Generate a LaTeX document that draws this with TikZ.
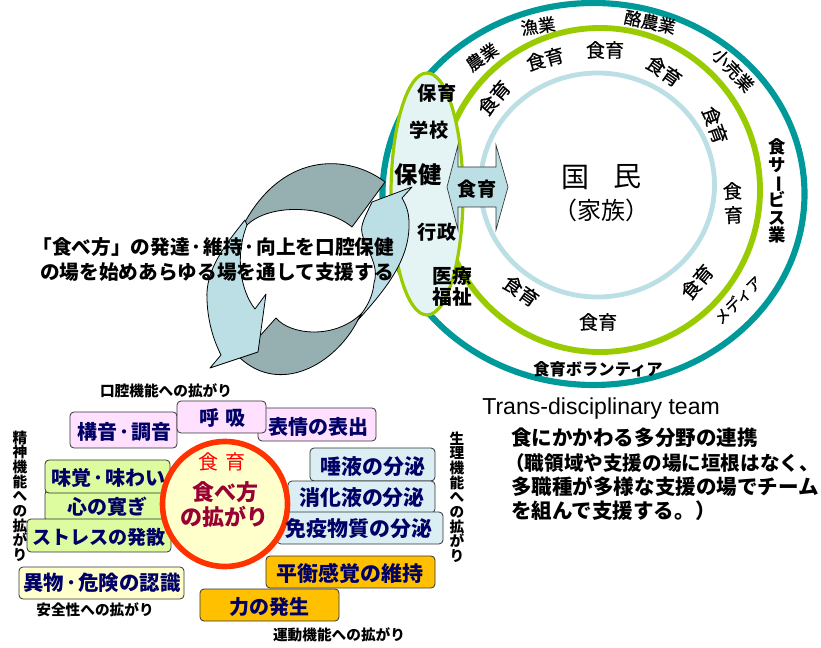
\documentclass[tikz,border=0pt]{standalone}
\usepackage{fontspec}
\setmainfont{Noto Sans CJK JP}
\newfontfamily\latn{Liberation Sans}
\newfontfamily\jm[FakeBold=0.6]{Noto Sans CJK JP}
\definecolor{teal1}{HTML}{009999}
\definecolor{green1}{HTML}{99CC00}
\definecolor{ice}{HTML}{BBDFE4}
\definecolor{pale}{HTML}{E4F4F4}
\definecolor{slate}{HTML}{96B0B2}
\definecolor{navy1}{HTML}{000066}
\definecolor{maroon1}{HTML}{990033}
\definecolor{pink1}{HTML}{FFE1FF}
\definecolor{lime1}{HTML}{DDFB9F}
\definecolor{aqua1}{HTML}{DAEEF3}
\definecolor{cream1}{HTML}{FFFFCC}
\definecolor{amber1}{HTML}{FFC000}
\newcommand{\fs}[1]{\fontsize{#1}{#1}\selectfont\lineskiplimit=-100pt\relax}
\newcommand{\dt}{\kern0.1em･\kern0.1em}
\tikzset{
  ringtext/.style={font=\jm\fs{14.3}, inner sep=0pt, black},
  outertext/.style={font=\jm\fs{13}, inner sep=0pt, black},
  placetext/.style={font=\fs{14.4}\bfseries, inner sep=0pt, black},
  boxpath/.style={draw=black!80, line width=0.6pt, rounded corners=3pt},
  boxtext/.style={font=\fs{15}\bfseries, inner sep=0pt, navy1},
  axistext/.style={font=\fs{11}\bfseries, inner sep=0pt, black},
  stacktext/.style={align=center, inner sep=0pt, black},
  bodytext/.style={font=\fs{15.4}\bfseries, anchor=west, inner sep=0pt, black},
  leadtext/.style={font=\fs{14.75}\bfseries, anchor=west, inner sep=0pt, black},
  arrowslate/.style={fill=slate, draw=black, line width=0.6pt, line join=round},
  arrowice/.style={fill=ice, draw=black, line width=0.6pt, line join=round},
}
\begin{document}
\begin{tikzpicture}[x=0.75pt,y=-0.75pt]
\useasboundingbox (0,0) rectangle (821,648);
% rings
\draw[teal1, line width=4.6pt] (593.5,194) ellipse [x radius=211, y radius=191];
\draw[green1, line width=4.4pt] (600,190) ellipse [x radius=160, y radius=162];
\draw[ice, line width=3.6pt] (597.5,185) ellipse [x radius=117, y radius=112];
% place ellipse
\draw[green1, fill=pale, line width=2.4pt] (427,194) ellipse [x radius=36, y radius=121];
% double arrow
\draw[fill=ice, draw=black!80, line width=0.5pt] (447,187) -- (458,145) -- (458,167) -- (496,167) -- (496,145) -- (508,187) -- (496,230) -- (496,207) -- (458,207) -- (458,230) -- cycle;
% cycle arrows
\draw[arrowslate] (385,182) .. controls (350,155) and (285,150) .. (245,222) -- (247,225) .. controls (270,203) and (325,205) .. (352,227) -- cycle;
\draw[arrowslate] (276,318) .. controls (290,335) and (335,340) .. (362,313) -- (358,320) .. controls (335,365) and (280,395) .. (240,358) -- cycle;
\draw[arrowice] (412,187) -- (372,202) .. controls (366,215) and (360,225) .. (362,233) .. controls (365,248) and (380,265) .. (374,283) .. controls (373,295) and (368,305) .. (362,313) -- (358,320) .. controls (385,290) and (410,260) .. (409,223) .. controls (409,212) and (406,205) .. (402,198) -- cycle;
\draw[arrowice] (210,368) -- (258,352) -- (266,294) -- (255,309) .. controls (240,290) and (235,255) .. (247,225) -- (245,220) .. controls (225,245) and (205,270) .. (207,300) .. controls (208,325) and (215,343) .. (221,355) -- cycle;
% outer ring labels
\node[outertext, rotate=35] (nogyo) at (482,57) {農業};
\node[outertext, rotate=8] (gyogyo) at (538,26) {漁業};
\node[outertext, rotate=-12] (rakuno) at (650,22) {酪農業};
\node[outertext, rotate=-47] (kouri) at (733,70) {小売業};
\node[stacktext, font=\fs{13}\bfseries] (service) at (777,191) {食\\[0.2pt]サ\\[0.2pt]\rotatebox[origin=c]{-90}{ー}\\[0.2pt]ビ\\[0.2pt]ス\\[0.2pt]業};
\node[outertext, rotate=45, font=\jm\fs{11.5}] (media) at (738,300) {メディア};
\node[outertext, font=\fs{12.2}\bfseries] (volunteer) at (598,369) {食育ボランティア};
% inner ring labels
\node[ringtext, rotate=50] (r1) at (494,98) {食育};
\node[ringtext, rotate=15] (r2) at (545,59) {食育};
\node[ringtext] (r3) at (605,50) {食育};
\node[ringtext, rotate=-35] (r4) at (664,71) {食育};
\node[ringtext, rotate=-70] (r5) at (715,125) {食育};
\node[stacktext, font=\jm\fs{14.3}, rotate=3] (r6) at (733,203) {食\\[3.7pt]育};
\node[ringtext, rotate=50] (r7) at (697,282) {食育};
\node[ringtext] (r8) at (598,322) {食育};
\node[ringtext, rotate=-35] (r9) at (521,291) {食育};
% centre
\node[inner sep=0pt, font=\fs{21}] (koku) at (575,177) {国};
\node[inner sep=0pt, font=\fs{21}] (min) at (627,177) {民};
\node[inner sep=0pt, font=\fs{18}] (kazoku) at (601,210) {\kern-0.25em（家族）\kern-0.25em};
% ellipse labels
\node[placetext] (hoiku) at (437,93) {保育};
\node[placetext] (gakko) at (429,130) {学校};
\node[placetext, font=\fs{17.5}\bfseries] (hoken) at (418,175) {保健};
\node[placetext] (gyosei) at (437,232) {行政};
\node[placetext, font=\fs{14.8}\bfseries] (iryo) at (452,276) {医療};
\node[placetext, font=\fs{14.8}\bfseries] (fukushi) at (452,297) {福祉};
\node[placetext] (shokuiku) at (477,189) {食育};
% lead text
\node[leadtext] (lead1) at (40,247) {\kern-0.4em「食べ方」の発達\dt 維持\dt 向上を口腔保健};
\node[leadtext] (lead2) at (40,272) {の場を始めあらゆる場を通して支援する};
% right text
\node[anchor=west, inner sep=0pt, font=\latn\fs{17.3}] (trans) at (482,409) {Trans-disciplinary team};
\node[bodytext] (b1) at (511,438) {食にかかわる多分野の連携};
\node[bodytext, font=\fs{14.7}\bfseries] (b2) at (511,463) {\kern-0.3em（職領域や支援の場に垣根はなく、};
\node[bodytext] (b3) at (511,487) {多職種が多様な支援の場でチーム};
\node[bodytext] (b4) at (511,511) {を組んで支援する。）};
% boxes
\path[boxpath, fill=pink1] (70,412) rectangle (177,448);
\path[boxpath, fill=pink1] (258,408) rectangle (376,441);
\path[boxpath, fill=pink1] (177,401) rectangle (266,433);
\path[boxpath, fill=lime1] (45,490) rectangle (172,522);
\path[boxpath, fill=lime1] (45,460) rectangle (170,493);
\path[boxpath, fill=lime1] (27,519) rectangle (171,552);
\path[boxpath, fill=aqua1] (310,448) rectangle (435,481);
\path[boxpath, fill=aqua1] (288,481) rectangle (435,513);
\path[boxpath, fill=aqua1] (277,512) rectangle (443,544);
\path[boxpath, fill=cream1] (19,567) rectangle (184,599);
\path[boxpath, fill=amber1] (266,556) rectangle (435,588);
\path[boxpath, fill=amber1] (200,589) rectangle (339,621);
% central circle
\draw[draw={rgb,255:red,255;green,51;blue,0}, fill=cream1, line width=4.2pt] (225,504) circle [radius=62.5];
% box texts
\node[boxtext] (t1) at (124,432) {構音\dt 調音};
\node[boxtext] (t2) at (222,418) {呼\kern0.3em吸};
\node[boxtext] (t3) at (318,427) {表情の表出};
\node[boxtext] (t4) at (108,478) {味覚\dt 味わい};
\node[boxtext] (t5) at (107,507) {心の寛ぎ};
\node[boxtext, font=\fs{14.3}\bfseries] (t6) at (99,537) {ストレスの発散};
\node[boxtext, font=\fs{15.7}\bfseries] (t7) at (373,467) {唾液の分泌};
\node[boxtext, font=\fs{15.7}\bfseries] (t8) at (362,498) {消化液の分泌};
\node[boxtext, font=\fs{15.7}\bfseries] (t9) at (359,529) {免疫物質の分泌};
\node[boxtext, font=\fs{15.3}\bfseries] (t10) at (102,583) {異物\dt 危険の認識};
\node[boxtext, font=\fs{15.7}\bfseries] (t11) at (350,573) {平衡感覚の維持};
\node[boxtext] (t12) at (269,607) {力の発生};
% circle texts
\node[inner sep=0pt, red, font=\fs{15}] (c1) at (222,462) {食\kern0.35em育};
\node[inner sep=0pt, maroon1, font=\fs{16.5}\bfseries] (c2) at (225,492) {食べ方};
\node[inner sep=0pt, maroon1, font=\fs{16.5}\bfseries] (c3) at (224,517) {の拡がり};
% axis labels
\node[axistext] (a1) at (166,391) {口腔機能への拡がり};
\node[axistext] (a2) at (95,610) {安全性への拡がり};
\node[axistext] (a3) at (339,635) {運動機能への拡がり};
\node[stacktext, font=\fs{11}\bfseries] (a4) at (20,496) {精\\神\\機\\能\\へ\\の\\拡\\が\\り};
\node[stacktext, font=\fs{11}\bfseries] (a5) at (457,497) {生\\理\\機\\能\\へ\\の\\拡\\が\\り};
\end{tikzpicture}
\end{document}
